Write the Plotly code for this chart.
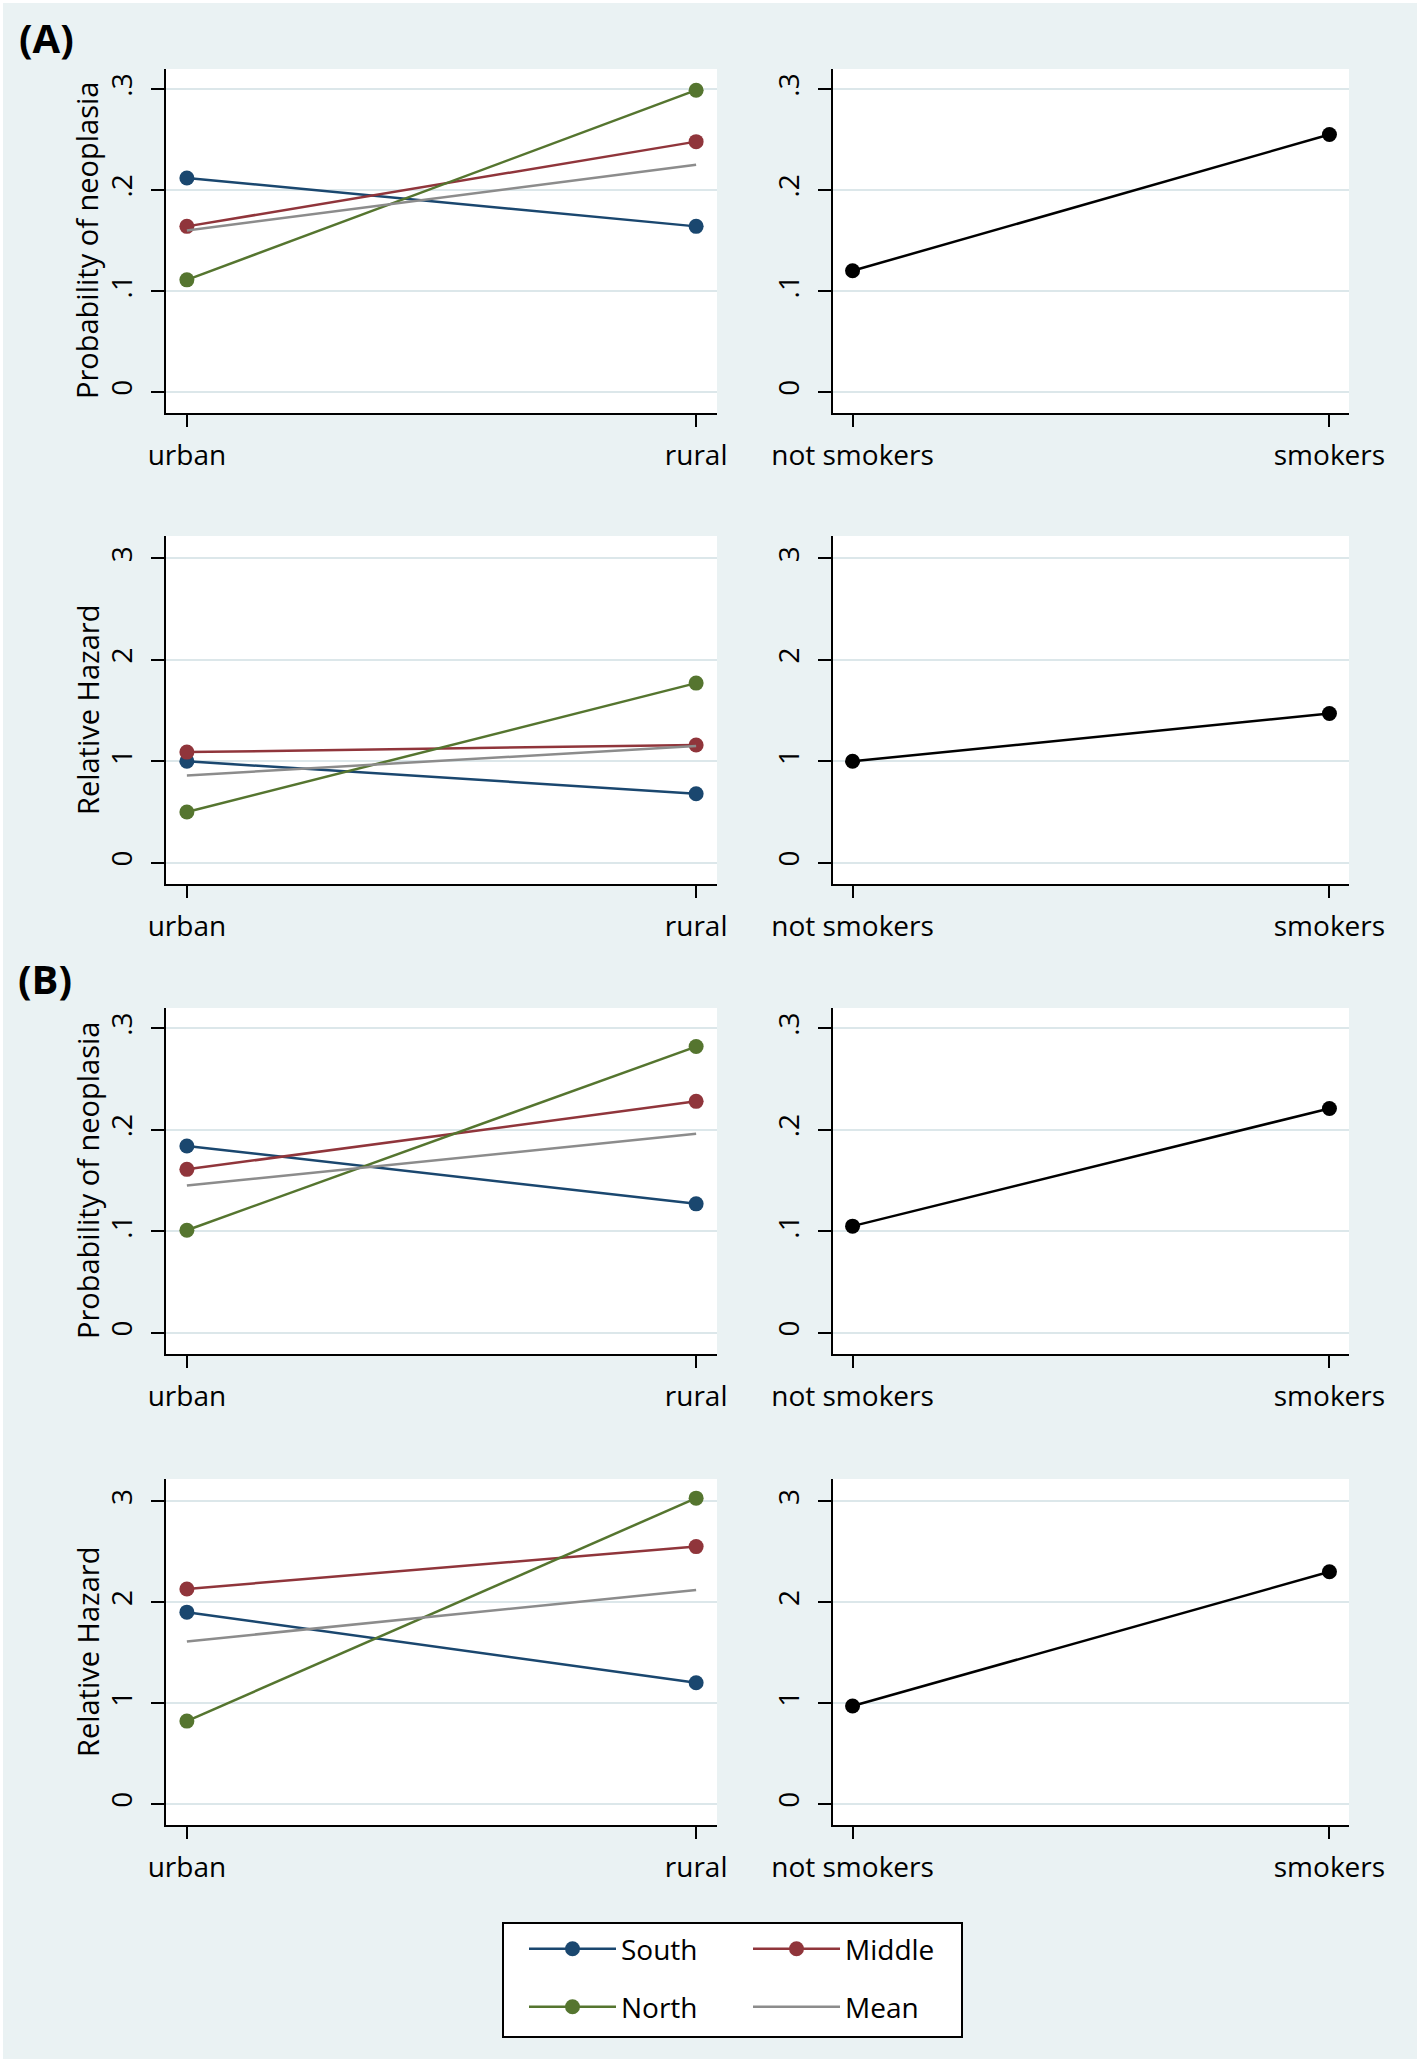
import plotly.graph_objects as go

# ---------------- data ----------------
area_cats = ["urban", "rural"]
smoke_cats = ["not smokers", "smokers"]

prob_ticks = [0, 0.1, 0.2, 0.3]
prob_ticktext = ["0", ".1", ".2", ".3"]
rh_ticks = [0, 1, 2, 3]
rh_ticktext = ["0", "1", "2", "3"]

# (A) probability of neoplasia
A_prob_south = [0.212, 0.164]
A_prob_middle = [0.164, 0.248]
A_prob_north = [0.111, 0.299]
A_prob_mean = [0.160, 0.225]
A_prob_smoke = [0.120, 0.255]
# (A) relative hazard
A_rh_south = [1.00, 0.68]
A_rh_middle = [1.09, 1.16]
A_rh_north = [0.50, 1.77]
A_rh_mean = [0.86, 1.15]
A_rh_smoke = [1.00, 1.47]
# (B) probability of neoplasia
B_prob_south = [0.184, 0.127]
B_prob_middle = [0.161, 0.228]
B_prob_north = [0.101, 0.282]
B_prob_mean = [0.145, 0.196]
B_prob_smoke = [0.105, 0.221]
# (B) relative hazard
B_rh_south = [1.90, 1.20]
B_rh_middle = [2.13, 2.55]
B_rh_north = [0.82, 3.03]
B_rh_mean = [1.61, 2.12]
B_rh_smoke = [0.97, 2.30]

# ---------------- styling ----------------
W, H = 1420, 2062
BG = "#EAF2F3"
GRID = "#DCE7EA"
C_SOUTH = "#1A476F"
C_MIDDLE = "#90353B"
C_NORTH = "#55752F"
C_MEAN = "#8C8C8C"
FONT = "Open Sans"
LW = 2.5
MS = 15

left_dom = [166 / W, 717 / W]
right_dom = [833 / W, 1349 / W]
rows_px = [(69, 413), (536, 884), (1008, 1354), (1479, 1825)]
row_dom = [[1 - b / H, 1 - t / H] for (t, b) in rows_px]

fig = go.Figure()

panels = [
    (0, (A_prob_south, A_prob_middle, A_prob_north, A_prob_mean), A_prob_smoke, "prob"),
    (1, (A_rh_south, A_rh_middle, A_rh_north, A_rh_mean), A_rh_smoke, "rh"),
    (2, (B_prob_south, B_prob_middle, B_prob_north, B_prob_mean), B_prob_smoke, "prob"),
    (3, (B_rh_south, B_rh_middle, B_rh_north, B_rh_mean), B_rh_smoke, "rh"),
]

layout_axes = {}
ax_i = 0
for row, (south, middle, north, mean), smoke, kind in panels:
    for col in range(2):
        ax_i += 1
        xa = "x" if ax_i == 1 else f"x{ax_i}"
        ya = "y" if ax_i == 1 else f"y{ax_i}"
        xkey = "xaxis" if ax_i == 1 else f"xaxis{ax_i}"
        ykey = "yaxis" if ax_i == 1 else f"yaxis{ax_i}"
        cats = area_cats if col == 0 else smoke_cats
        if col == 0:
            first = (row == 0)
            fig.add_trace(go.Scatter(x=cats, y=south, mode="lines+markers", name="South",
                                     line=dict(color=C_SOUTH, width=LW), marker=dict(color=C_SOUTH, size=MS),
                                     xaxis=xa, yaxis=ya, showlegend=first, legend="legend"))
            fig.add_trace(go.Scatter(x=cats, y=middle, mode="lines+markers", name="Middle",
                                     line=dict(color=C_MIDDLE, width=LW), marker=dict(color=C_MIDDLE, size=MS),
                                     xaxis=xa, yaxis=ya, showlegend=first, legend="legend"))
            fig.add_trace(go.Scatter(x=cats, y=north, mode="lines+markers", name="North",
                                     line=dict(color=C_NORTH, width=LW), marker=dict(color=C_NORTH, size=MS),
                                     xaxis=xa, yaxis=ya, showlegend=first, legend="legend2"))
            fig.add_trace(go.Scatter(x=cats, y=mean, mode="lines", name="Mean",
                                     line=dict(color=C_MEAN, width=LW),
                                     xaxis=xa, yaxis=ya, showlegend=first, legend="legend2"))
        else:
            fig.add_trace(go.Scatter(x=cats, y=smoke, mode="lines+markers", name="Smoking",
                                     line=dict(color="black", width=LW), marker=dict(color="black", size=MS),
                                     xaxis=xa, yaxis=ya, showlegend=False))
        if kind == "prob":
            yr = [-0.021, 0.32]
            tv, tt = prob_ticks, prob_ticktext
        else:
            yr = [-0.21, 3.22]
            tv, tt = rh_ticks, rh_ticktext
        layout_axes[xkey] = dict(
            domain=left_dom if col == 0 else right_dom, anchor=ya,
            type="category", categoryorder="array", categoryarray=cats,
            range=[-0.041, 1.041], showline=True, linecolor="black", linewidth=2,
            ticks="outside", ticklen=12, tickwidth=2, tickcolor="black",
            showgrid=False, zeroline=False, ticklabelstandoff=4, automargin=False,
            tickfont=dict(family=FONT, size=28, color="black"),
        )
        layout_axes[ykey] = dict(
            domain=row_dom[row], anchor=xa, range=yr,
            tickmode="array", tickvals=tv, ticktext=tt, tickangle=-90,
            showline=True, linecolor="black", linewidth=2,
            ticks="outside", ticklen=13, tickwidth=2, tickcolor="black",
            showgrid=True, gridcolor=GRID, gridwidth=2, zeroline=False,
            ticklabelstandoff=8, automargin=False,
            tickfont=dict(family=FONT, size=28, color="black"),
        )

annotations = []
for row, (t, b) in enumerate(rows_px):
    title = "Probability of neoplasia" if row in (0, 2) else "Relative Hazard"
    annotations.append(dict(text=title, x=87 / W, y=1 - (t + b) / 2 / H, xref="paper", yref="paper",
                            xanchor="center", yanchor="middle", textangle=-90, showarrow=False,
                            font=dict(family=FONT, size=29, color="black")))
annotations.append(dict(text="<b>(A)</b>", x=46 / W, y=1 - 38 / H, xref="paper", yref="paper",
                        xanchor="center", yanchor="middle", showarrow=False,
                        font=dict(family=FONT, size=40, color="black")))
annotations.append(dict(text="<b>(B)</b>", x=45 / W, y=1 - 979 / H, xref="paper", yref="paper",
                        xanchor="center", yanchor="middle", showarrow=False,
                        font=dict(family=FONT, size=40, color="black")))

shapes = [
    dict(type="rect", xref="paper", yref="paper", x0=503 / W, x1=962 / W, y0=1 - 2037 / H, y1=1 - 1923 / H,
         fillcolor="white", line=dict(color="black", width=2), layer="below"),
    dict(type="rect", xref="paper", yref="paper", x0=0, x1=1, y0=0, y1=1,
         fillcolor="rgba(0,0,0,0)", line=dict(color="white", width=6), layer="above"),
]

legend_common = dict(orientation="h", xanchor="left", yanchor="middle", bgcolor="rgba(0,0,0,0)",
                     borderwidth=0, itemwidth=87, entrywidth=122, entrywidthmode="pixels",
                     font=dict(family=FONT, size=28, color="black"), itemclick=False)

fig.update_layout(
    template="none",
    width=W, height=H, autosize=False,
    margin=dict(l=0, r=0, t=0, b=0, pad=0, autoexpand=False),
    paper_bgcolor=BG, plot_bgcolor="white",
    font=dict(family=FONT, color="black"),
    showlegend=True,
    legend=dict(x=524 / W, y=1 - 1949 / H, **legend_common),
    legend2=dict(x=524 / W, y=1 - 2007 / H, **legend_common),
    annotations=annotations,
    shapes=shapes,
    **layout_axes,
)

fig.write_html("out.html", config={"responsive": False, "displayModeBar": False},
               post_script="document.body.style.margin='0';document.body.style.overflow='hidden';")
